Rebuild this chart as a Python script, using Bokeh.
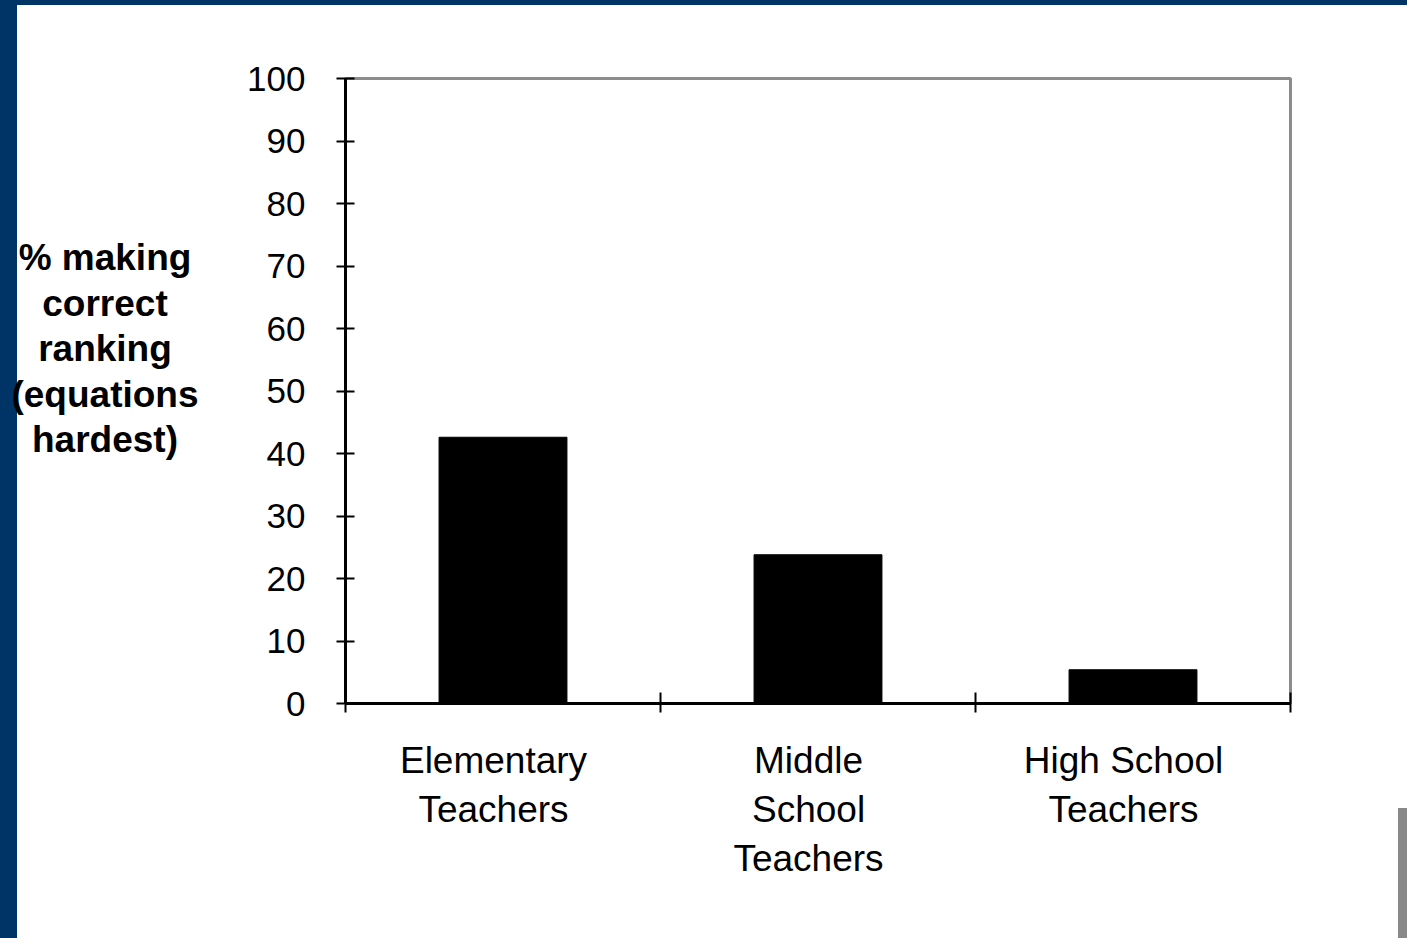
from bokeh.plotting import figure
from bokeh.models import FixedTicker, Spacer, Range1d, Div
from bokeh.layouts import row, column
from bokeh.embed import file_html
from bokeh.resources import INLINE

categories = ["Elementary\nTeachers", "Middle\nSchool\nTeachers", "High School\nTeachers"]
values = [42.6, 23.8, 5.4]
y_ticks = list(range(0, 101, 10))
y_title_lines = ["% making", "correct", "ranking", "(equations", "hardest)"]

xs = [i + 0.5 for i in range(len(categories))]
label_pos = [i + 0.47 for i in range(len(categories))]
bounds = list(range(len(categories) + 1))

FONT = "Liberation Sans"
BLUE = "#003366"
TITLE_W = 196
INNER_W = 200
TITLE_CX = 88

p = figure(width=1381 - TITLE_W, height=933, x_range=Range1d(0, len(categories)), y_range=Range1d(0, 100),
           output_backend="svg", toolbar_location=None,
           min_border_left=328 - TITLE_W, min_border_right=108, min_border_top=73, min_border_bottom=235)
p.background_fill_color = "white"
p.border_fill_color = "white"
p.outline_line_color = "#8c8c8c"
p.outline_line_width = 3
p.xgrid.visible = False
p.ygrid.visible = False

p.vbar(x=xs, top=values, bottom=0, width=0.406, fill_color="black", line_color="black")

ya = p.yaxis[0]
ya.ticker = FixedTicker(ticks=y_ticks)
ya.axis_line_color = "black"
ya.axis_line_width = 3
ya.major_tick_line_color = "black"
ya.major_tick_line_width = 2
ya.major_tick_in = 9
ya.major_tick_out = 9
ya.minor_tick_line_color = None
ya.major_label_text_font = FONT
ya.major_label_text_font_size = "35px"
ya.major_label_text_color = "black"
ya.major_label_standoff = 31

xa = p.xaxis[0]
xa.ticker = FixedTicker(ticks=label_pos, minor_ticks=bounds)
xa.major_label_overrides = {x: c for x, c in zip(label_pos, categories)}
xa.axis_line_color = "black"
xa.axis_line_width = 3
xa.major_tick_in = 0
xa.major_tick_out = 0
xa.major_tick_line_color = None
xa.minor_tick_line_color = "black"
xa.minor_tick_line_width = 2
xa.minor_tick_in = 11
xa.minor_tick_out = 9
xa.major_label_text_font = FONT
xa.major_label_text_font_size = "37px"
xa.major_label_text_color = "black"
xa.major_label_standoff = 27

inner = (
    f'<div style="position:absolute; left:{TITLE_CX - INNER_W // 2}px; top:0px; width:{INNER_W}px; '
    f'text-align:center; white-space:nowrap; font-family:\'{FONT}\'; font-size:37px; '
    f'font-weight:bold; line-height:45.5px; color:black;">'
    + "<br>".join(y_title_lines) + "</div>"
)
title_div = Div(text=inner, width=TITLE_W, height=260, margin=0, styles={"overflow": "visible"})
title_col = column(Spacer(width=TITLE_W, height=230), title_div)

top_bar = Spacer(width=1407, height=5, styles={"background-color": BLUE})
left_bar = Spacer(width=17, height=933, styles={"background-color": BLUE})
right_col = column(Spacer(width=9, height=803), Spacer(width=9, height=130, styles={"background-color": "#888888"}))
layout = column(top_bar, row(left_bar, title_col, p, right_col))

open("out.html", "w").write(file_html(layout, INLINE))
